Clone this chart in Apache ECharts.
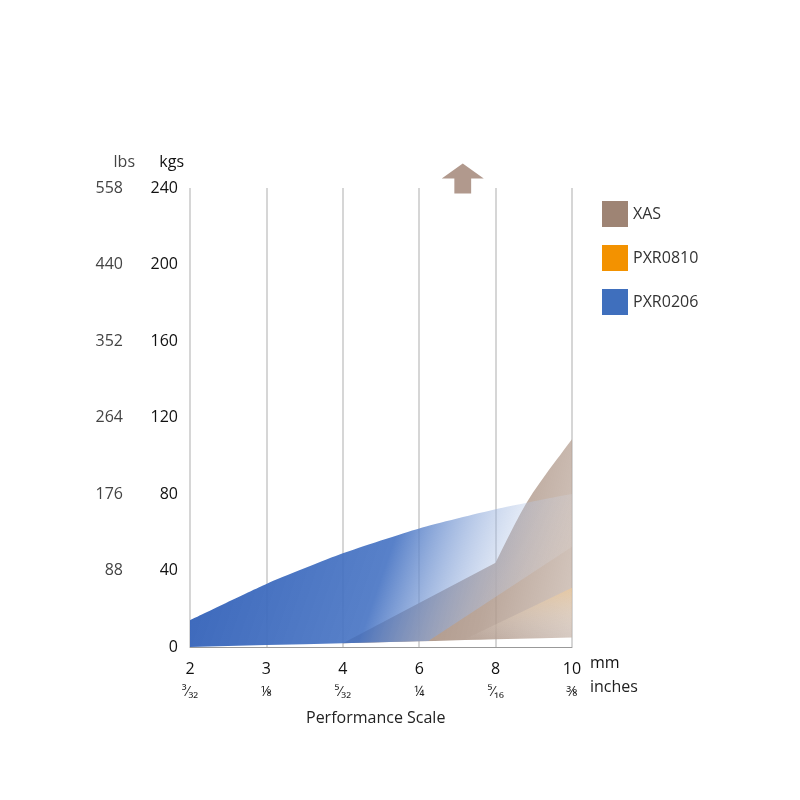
<!DOCTYPE html>
<html><head><meta charset="utf-8">
<script src="https://cdn.jsdelivr.net/npm/echarts@6/dist/echarts.min.js"></script>
<style>html,body{margin:0;background:#fff}#c{width:800px;height:800px}</style>
</head><body><div id="c"></div>
<script>
const mmLabels = ['2','3','4','6','8','10'];
const inchLabels = ['³⁄₃₂','⅛','⁵⁄₃₂','¼','⁵⁄₁₆','⅜'];
const kgsTicks = [0,40,80,120,160,200,240];
const lbsLabels = ['','88','176','264','352','440','558'];
const seriesNames = ['XAS','PXR0810','PXR0206'];
// XAS
const xasX = [2,2.2,2.4,2.6,2.8,3.0,3.2,3.4,3.6,3.8,4.0,4.3,4.6,5];
const xasTop = [154,185,208,228,240,236,231,229,232,236,239,241,240,236];
const xasBase = [110,110,110,110,110,110,110,110,110,110,110,110,110,110];
// PXR0810
const pxr810X = [3.57,3.8,4.0,4.3,4.6,5];
const pxr810Top = [187,190,192,195,198,200];
const pxr810Base = [115,118,120,122,125,128];
// PXR0206
const pxr206X = [0,0.5,1,1.5,2,2.5,3,3.12];
const pxr206Top = [20,43,65,86,106,124,140,143];
const pxr206Base = [6,10,16,24,34,44,54,58];
const arrowPos = [3.57,245];

const colors = {XAS:'#9e8474', PXR0810:'#f39200', PXR0206:'#3f6fbd'};
const pair = (xs,ys)=>xs.map((x,i)=>[x,ys[i]]);
const band = (xs,top,base)=>xs.map((x,i)=>[x,top[i]-base[i]]);
function g(x,y,x2,y2,stops){return new echarts.graphic.LinearGradient(x,y,x2,y2,stops.map(s=>({offset:s[0],color:s[1]})));}

const chart = echarts.init(document.getElementById('c'));
const baseS = (name,stack,data)=>({name,type:'line',stack,data,symbol:'none',lineStyle:{width:0,opacity:0},silent:true,z:1});
chart.setOption({
  animation:false,
  grid:{left:190,right:228,top:188,bottom:153},
  legend:{data:seriesNames,orient:'vertical',left:597,top:196,itemWidth:26,itemHeight:26,itemGap:18,icon:'rect',
    textStyle:{fontSize:16,color:'#333',fontFamily:'Open Sans'}},
  xAxis:{type:'value',min:0,max:5,interval:1,
    axisLine:{lineStyle:{color:'#999'}},axisTick:{show:false},
    splitLine:{show:true,lineStyle:{color:'#c8c8c8',width:1.5}},
    axisLabel:{margin:10,formatter:v=>'{a|'+mmLabels[v]+'}\n{b|'+inchLabels[v]+'}',
      rich:{a:{fontSize:16,color:'#111',fontFamily:'Open Sans',lineHeight:24},b:{fontSize:14,color:'#222',fontFamily:'Open Sans',lineHeight:22}}}},
  yAxis:[
    {type:'value',min:0,max:240,interval:40,position:'left',name:'kgs',nameGap:18,
     nameTextStyle:{fontSize:16,color:'#111',fontFamily:'Open Sans',align:'right',padding:[0,6,0,0]},
     axisLine:{show:false},axisTick:{show:false},splitLine:{show:false},
     axisLabel:{fontSize:16,color:'#111',margin:12,fontFamily:'Open Sans'}},
    {type:'value',min:0,max:240,interval:40,position:'left',offset:45,name:'lbs',nameGap:18,
     nameTextStyle:{fontSize:16,color:'#444',fontFamily:'Open Sans',align:'right',padding:[0,10,0,0]},
     axisLine:{show:false},axisTick:{show:false},splitLine:{show:false},
     axisLabel:{fontSize:16,color:'#444',margin:22,fontFamily:'Open Sans',formatter:(v)=>lbsLabels[kgsTicks.indexOf(v)]}}
  ],
  graphic:[
    {type:'text',left:590,top:655,style:{text:'mm',fontSize:16,fill:'#111',fontFamily:'Open Sans'}},
    {type:'text',left:590,top:679,style:{text:'inches',fontSize:16,fill:'#222',fontFamily:'Open Sans'}},
    {type:'text',left:306,top:710,style:{text:'Performance Scale',fontSize:16,fill:'#222',fontFamily:'Open Sans'}}
  ],
  series:[
    baseS('xb','xas',pair(xasX,xasBase)),
    {name:'XAS',type:'line',stack:'xas',data:band(xasX,xasTop,xasBase),symbol:'none',smooth:0.3,color:colors.XAS,
     lineStyle:{width:0,opacity:0},z:2,
     areaStyle:{opacity:1,color:g(0,0,1,0.6,[[0,'rgba(150,122,105,1)'],[0.3,'rgba(175,152,138,0.85)'],[0.6,'rgba(215,200,190,0.5)'],[1,'rgba(255,255,255,0)']])}},
    baseS('ob','o',pair(pxr810X,pxr810Base)),
    {name:'PXR0810',type:'line',stack:'o',data:band(pxr810X,pxr810Top,pxr810Base),symbol:'none',smooth:0.3,color:colors.PXR0810,
     lineStyle:{width:0,opacity:0},z:3,
     areaStyle:{opacity:1,color:g(0,0,0,1,[[0,'rgba(243,146,0,1)'],[0.35,'rgba(246,170,60,0.8)'],[1,'rgba(255,255,255,0)']])}},
    baseS('bb','b',pair(pxr206X,pxr206Base)),
    {name:'PXR0206',type:'line',stack:'b',data:band(pxr206X,pxr206Top,pxr206Base),symbol:'none',smooth:0.2,color:colors.PXR0206,
     lineStyle:{width:0,opacity:0},z:4,
     areaStyle:{opacity:1,color:g(0,0,1,1,[[0,'rgba(55,100,185,1)'],[0.42,'rgba(70,115,195,0.9)'],[0.8,'rgba(255,255,255,0)']])}},
    {name:'arrow',type:'scatter',data:[arrowPos],clip:false,z:5,silent:true,
     symbol:'path://M5,0 L10,5 L7,5 L7,10 L3,10 L3,5 L0,5 Z',symbolSize:[42,30],itemStyle:{color:'#9e8070'}}
  ]
});
</script></body></html>
